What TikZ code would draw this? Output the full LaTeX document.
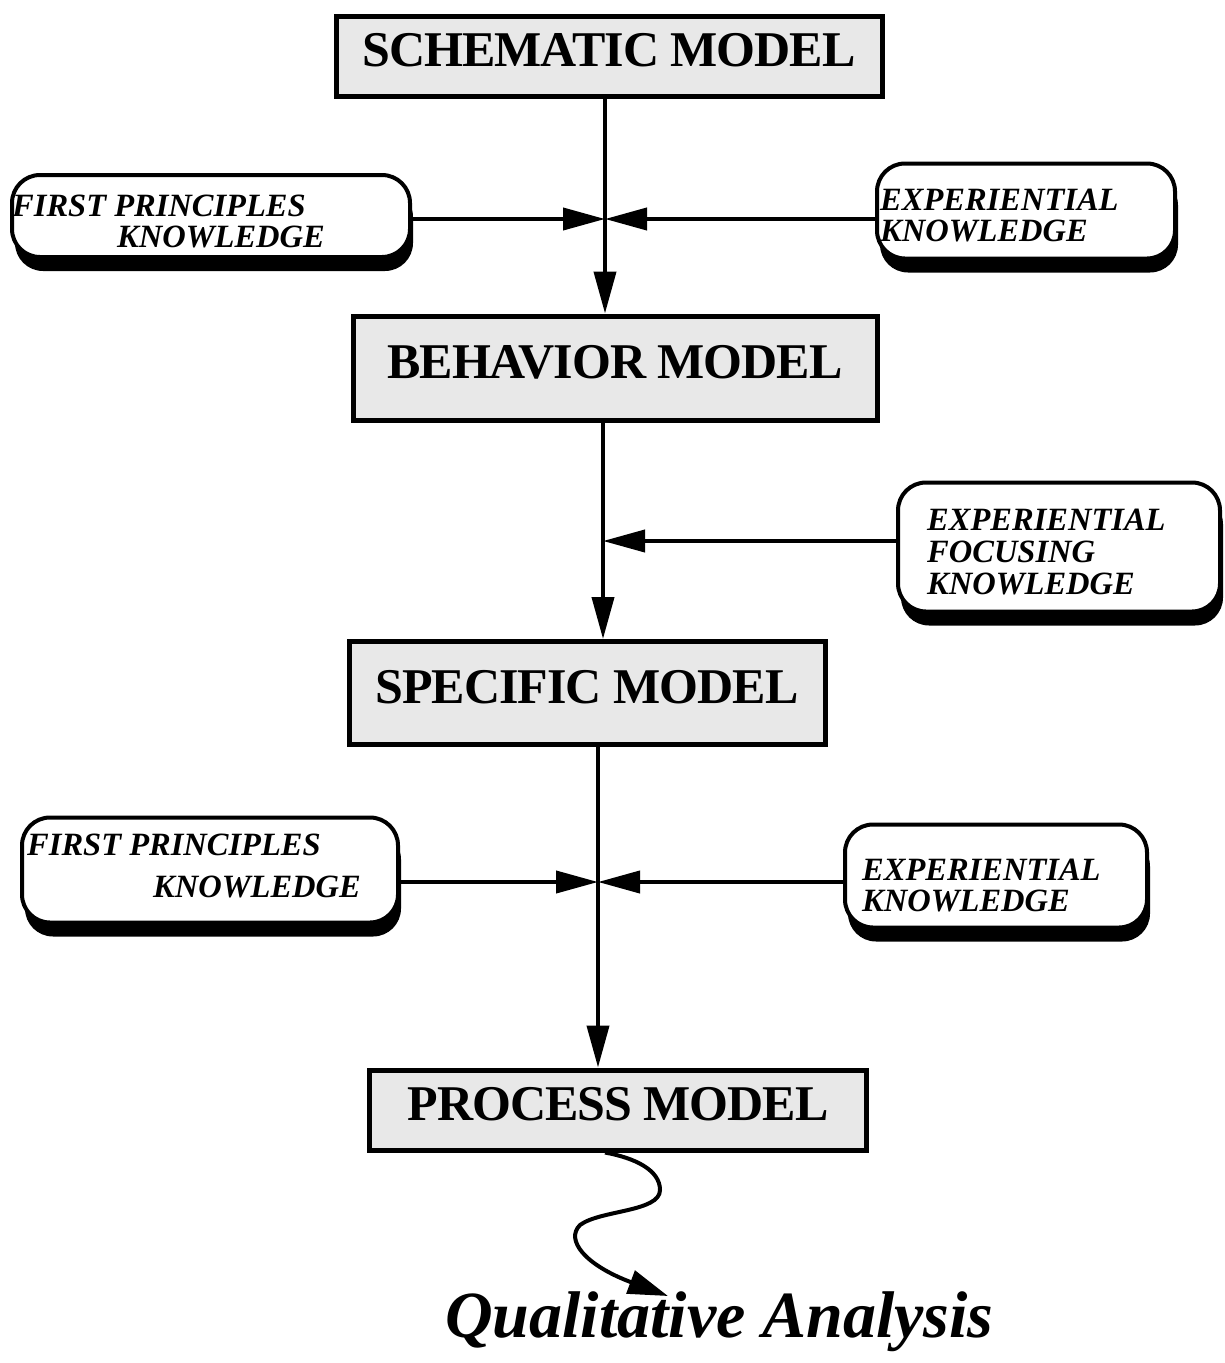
\documentclass[tikz,border=0pt]{standalone}
\usepackage{fontspec}
\setmainfont{Liberation Serif}
\usetikzlibrary{arrows.meta,shadows}
\begin{document}
\begin{tikzpicture}[x=1pt,y=-1pt,
  modelbox/.style={draw, line width=5pt, fill=gray!18, inner sep=0pt,
    font=\fontsize{50}{52}\selectfont\bfseries\addfontfeature{LetterSpace=-2}, text height=35pt, text depth=15pt},
  knowbox/.style={draw, line width=4pt, fill=white, rounded corners=28pt, inner sep=0pt,
    drop shadow={shadow xshift=3pt, shadow yshift=-14pt, fill=black, opacity=1}},
  knowtext/.style={anchor=base west, inner sep=0pt, font=\fontsize{32.5}{34}\selectfont\bfseries\itshape},
  flow/.style={line width=4pt, -{Triangle[length=42pt,width=22pt]}},
  side/.style={line width=4pt, -{Triangle[length=42pt,width=22pt]}}
]
\useasboundingbox (0,0) rectangle (1225,1363);

% model boxes
\node[modelbox, minimum width=546pt, minimum height=80pt] (schem) at (609,56) {SCHEMATIC MODEL};
\node[modelbox, minimum width=524pt, minimum height=104pt] (behav) at (615,368) {BEHAVIOR MODEL};
\node[modelbox, minimum width=476pt, minimum height=103pt] (spec) at (587,693) {SPECIFIC MODEL};
\node[modelbox, minimum width=497pt, minimum height=80pt] (proc) at (618,1110) {PROCESS MODEL};

% knowledge boxes
\node[knowbox, minimum width=398pt, minimum height=82pt] (fp1) at (211,216) {};
\node[knowbox, minimum width=298pt, minimum height=95pt] (ex1) at (1026,211) {};
\node[knowbox, minimum width=322pt, minimum height=129pt] (exf) at (1059,547) {};
\node[knowbox, minimum width=376pt, minimum height=105pt] (fp2) at (210,870) {};
\node[knowbox, minimum width=302pt, minimum height=103pt] (ex2) at (996,876) {};

\node[knowtext] (fp1a) at (12,216) {FIRST PRINCIPLES};
\node[knowtext] (fp1b) at (117,247) {KNOWLEDGE};
\node[knowtext] (ex1a) at (880,210) {EXPERIENTIAL};
\node[knowtext] (ex1b) at (880,241) {KNOWLEDGE};
\node[knowtext] (exfa) at (927,530) {EXPERIENTIAL};
\node[knowtext] (exfb) at (927,562) {FOCUSING};
\node[knowtext] (exfc) at (927,594) {KNOWLEDGE};
\node[knowtext] (fp2a) at (27,855) {FIRST PRINCIPLES};
\node[knowtext] (fp2b) at (153,897) {KNOWLEDGE};
\node[knowtext] (ex2a) at (862,880) {EXPERIENTIAL};
\node[knowtext] (ex2b) at (862,911) {KNOWLEDGE};

% junctions
\coordinate (j1) at (605,219);
\coordinate (j2) at (603,541);
\coordinate (j3) at (598,882);

\draw[flow] (schem.south -| j1) -- (behav.north -| j1);
\draw[flow] (behav.south -| j2) -- (spec.north -| j2);
\draw[flow] (spec.south -| j3) -- (proc.north -| j3);

\draw[side] (fp1.east |- j1) -- (j1);
\draw[side] (ex1.west |- j1) -- (j1);
\draw[side] (exf.west |- j2) -- (j2);
\draw[side] (fp2.east |- j3) -- (j3);
\draw[side] (ex2.west |- j3) -- (j3);

% output
\node[anchor=base west, inner sep=0pt, font=\fontsize{66}{70}\selectfont\bfseries\itshape] (qa) at (445,1337) {Qualitative Analysis};
\coordinate (qtip) at (668,1296);
\draw[line width=4pt, -{Triangle[length=40pt,width=24pt]}]
  (proc.south -| 605,0) .. controls (635,1158) and (660,1170) .. (660,1190)
  .. controls (660,1212) and (600,1210) .. (580,1225)
  .. controls (565,1240) and (585,1265) .. (qtip);
\end{tikzpicture}
\end{document}
